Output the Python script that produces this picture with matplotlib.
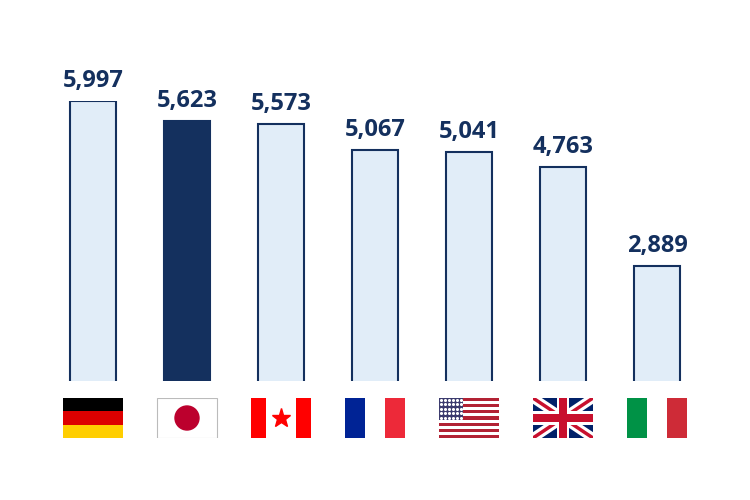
import numpy as np
import matplotlib.pyplot as plt
from matplotlib.patches import Rectangle, Ellipse

countries = ["Germany", "Japan", "Canada", "France", "USA", "UK", "Italy"]
values = [5997, 5623, 5573, 5067, 5041, 4763, 2889]
highlight = "Japan"

navy = "#14305e"
light = "#e1edf8"

fig = plt.figure(figsize=(7.5, 5), dpi=100)
ax = fig.add_axes([46/750, 1-381/500, 658/750, 280.1/500])
x = np.arange(len(countries))
colors = [navy if c == highlight else light for c in countries]
ax.bar(x, values, width=0.49, color=colors, edgecolor=navy, linewidth=1.5)
for xi, v in zip(x, values):
    ax.text(xi, v + 150, f"{v:,}", ha="center", va="bottom", fontsize=17,
            fontweight="bold", color=navy, family="Open Sans")
ax.set_xlim(-0.5, len(countries) - 0.5)
ax.set_ylim(724, 6000)
ax.axis("off")

# flags
fa = fig.add_axes([46/750, 1-438/500, 658/750, 40/500])
fa.set_xlim(-0.5, len(countries) - 0.5)
fa.set_ylim(0, 1)
fa.axis("off")
fw = 60/94

def rect(x0, y0, w, h, c, **kw):
    fa.add_patch(Rectangle((x0, y0), w, h, facecolor=c, edgecolor="none", **kw))

def hstripes(cx, cols):
    n = len(cols)
    for i, c in enumerate(cols):
        rect(cx - fw/2, 1 - (i+1)/n, fw, 1/n, c)

def vstripes(cx, cols, ws=None):
    ws = ws or [1/len(cols)] * len(cols)
    x0 = cx - fw/2
    for c, w in zip(cols, ws):
        rect(x0, 0, fw*w, 1, c)
        x0 += fw*w

for xi, c in zip(x, countries):
    l = xi - fw/2
    if c == "Germany":
        hstripes(xi, ["#000000", "#dd0000", "#ffce00"])
    elif c == "Japan":
        fa.add_patch(Rectangle((l, 0), fw, 1, facecolor="white", edgecolor="#bbbbbb", lw=0.8))
        fa.add_patch(Ellipse((xi, 0.5), 24/94, 24/40, color="#bc002d"))
    elif c == "Canada":
        vstripes(xi, ["#ff0000", "white", "#ff0000"], [0.25, 0.5, 0.25])
        fa.plot(xi, 0.5, marker="*", color="#ff0000", markersize=14)
    elif c == "France":
        vstripes(xi, ["#002395", "white", "#ed2939"])
    elif c == "Italy":
        vstripes(xi, ["#009246", "white", "#ce2b37"])
    elif c == "USA":
        hstripes(xi, ["#b22234" if i % 2 == 0 else "white" for i in range(13)])
        rect(l, 6/13, fw*0.4, 7/13, "#3c3b6e")
        sx, sy = np.meshgrid(np.linspace(l + 0.02, l + fw*0.4 - 0.02, 6),
                             np.linspace(6/13 + 0.05, 0.95, 5))
        fa.scatter(sx, sy, s=1.5, color="white", zorder=3)
    elif c == "UK":
        base = Rectangle((l, 0), fw, 1, facecolor="#012169", edgecolor="none")
        fa.add_patch(base)
        for lw, col in [(7, "white"), (2.5, "#c8102e")]:
            for ys in [(0, 1), (1, 0)]:
                ln, = fa.plot([l, l + fw], ys, color=col, lw=lw, solid_capstyle="butt")
                ln.set_clip_path(base)
        rect(xi - fw*0.1, 0, fw*0.2, 1, "white", zorder=4)
        rect(l, 0.33, fw, 0.34, "white", zorder=4)
        rect(xi - fw*0.06, 0, fw*0.12, 1, "#c8102e", zorder=5)
        rect(l, 0.4, fw, 0.2, "#c8102e", zorder=5)

fig.savefig("out.png", dpi=100, facecolor="white")
